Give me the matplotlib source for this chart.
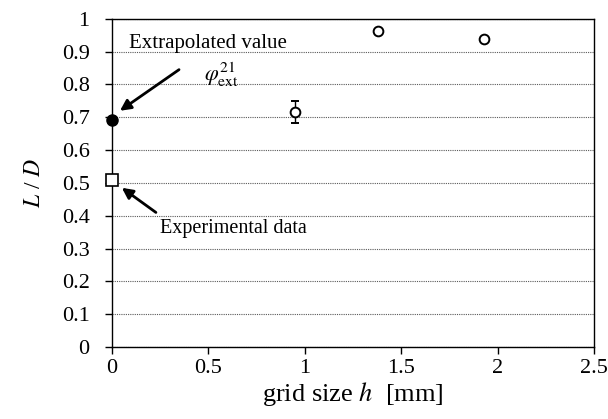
import matplotlib
matplotlib.use("Agg")
import matplotlib.pyplot as plt

plt.rcParams['font.family'] = ['Liberation Serif', 'DejaVu Serif']
plt.rcParams['mathtext.fontset'] = 'stix'

# data
h_sim = [0.95, 1.38, 1.93]
LD_sim = [0.717, 0.962, 0.940]
LD_err = [0.034, 0.006, 0.0]
h_ext = [0.0]
LD_ext = [0.693]
h_exp = [0.0]
LD_exp = [0.508]

fig = plt.figure(figsize=(6.08, 4.19), dpi=100)
ax = fig.add_axes([0.184, 0.172, 0.793, 0.783])

ax.set_axisbelow(True)
ax.yaxis.grid(True, linestyle=(0, (1, 1)), color='0.35', linewidth=0.8)

ax.errorbar(h_sim, LD_sim, yerr=LD_err, fmt='o', mfc='white', mec='black',
            ecolor='black', ms=7, mew=1.4, elinewidth=1, capsize=3, zorder=3)
ax.plot(h_ext, LD_ext, 'o', color='black', ms=8, clip_on=False, zorder=4)
ax.plot(h_exp, LD_exp, 's', mfc='white', mec='black', ms=8, mew=1.2,
        clip_on=False, zorder=4)

ax.annotate('', xy=(0.03, 0.715), xytext=(0.36, 0.85),
            arrowprops=dict(arrowstyle='-|>', color='black', lw=2, mutation_scale=16))
ax.text(0.09, 0.925, 'Extrapolated value', fontsize=15, va='center')
ax.text(0.48, 0.83, r'$\varphi_{\mathrm{ext}}^{21}$', fontsize=16, va='center')

ax.annotate('', xy=(0.04, 0.49), xytext=(0.24, 0.405),
            arrowprops=dict(arrowstyle='-|>', color='black', lw=2, mutation_scale=16))
ax.text(0.25, 0.36, 'Experimental data', fontsize=14.5, va='center')

ax.set_xlim(0, 2.5)
ax.set_ylim(0, 1)
ax.set_xticks([0, 0.5, 1, 1.5, 2, 2.5])
ax.set_xticklabels(['0', '0.5', '1', '1.5', '2', '2.5'])
ax.set_yticks([i / 10 for i in range(11)])
ax.set_yticklabels(['0', '0.1', '0.2', '0.3', '0.4', '0.5', '0.6', '0.7', '0.8', '0.9', '1'])
ax.tick_params(direction='out', length=5, width=1, labelsize=16, pad=4)
ax.tick_params(axis='y', pad=11)

ax.set_xlabel(r'grid size $\it{h}$  [mm]', fontsize=19, labelpad=1)
ax.set_ylabel(r'$\it{L}$ / $\it{D}$', fontsize=17, labelpad=12)

for s in ax.spines.values():
    s.set_linewidth(1)

fig.savefig('out.png', dpi=100)
